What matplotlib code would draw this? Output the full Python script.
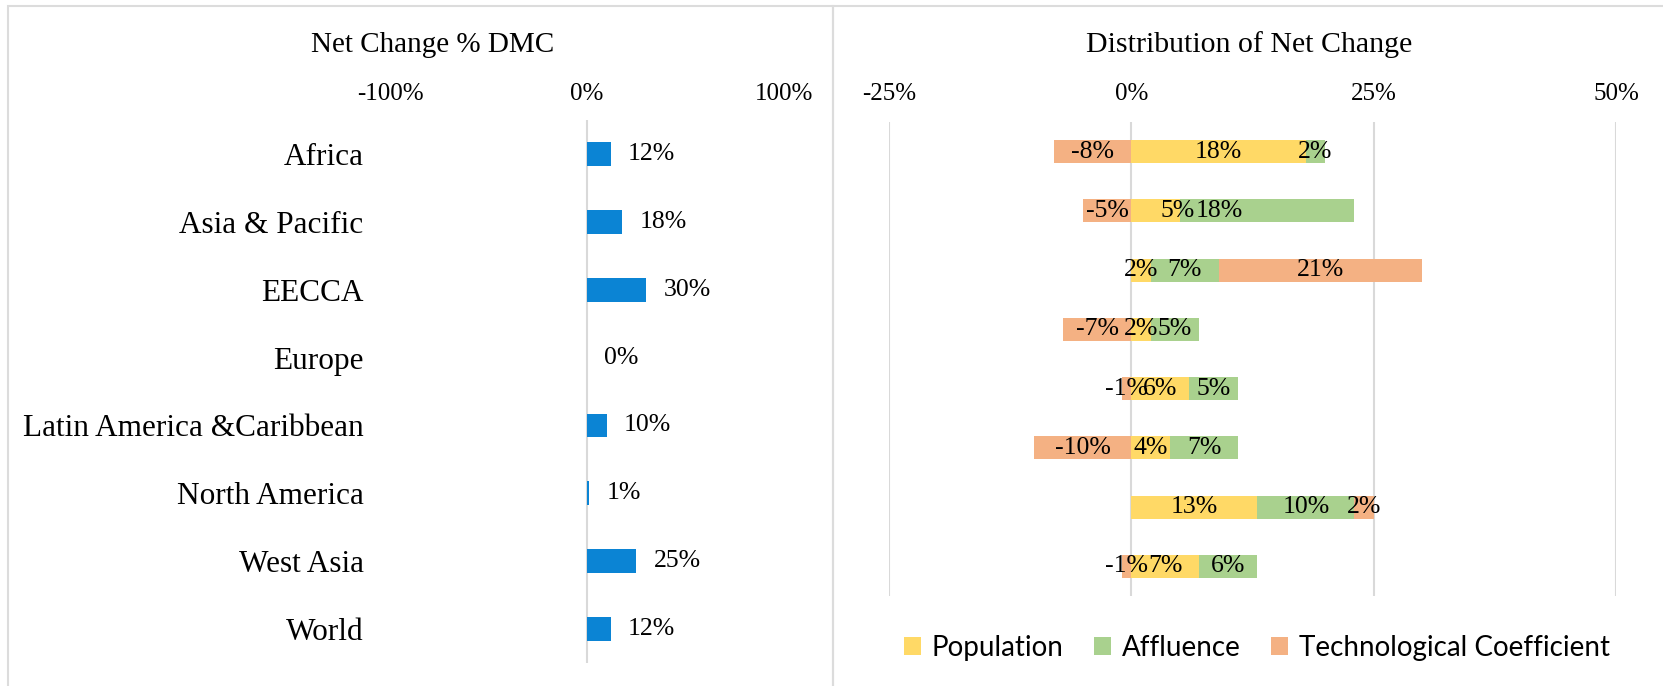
import numpy as np
import matplotlib
matplotlib.use('Agg')
import matplotlib.pyplot as plt
from matplotlib.patches import Rectangle

regions = ['Africa', 'Asia & Pacific', 'EECCA', 'Europe', 'Latin America &Caribbean',
           'North America', 'West Asia', 'World']
dmc_change = [12, 18, 30, 0, 10, 1, 25, 12]

population = [18, 5, 2, 2, 6, 4, 13, 7]
affluence = [2, 18, 7, 5, 5, 7, 10, 6]
technology = [-8, -5, 21, -7, -1, -10, 2, -1]
series_names = ['Population', 'Affluence', 'Technological Coefficient']

left_ticks = [-100, 0, 100]
right_ticks = [-25, 0, 25, 50]

# where Excel had moved a couple of the labels (in % units)
label_nudge = {(1, 0): 2.3, (1, 1): -4.9}

W, H = 1663, 686
serif = 'Liberation Serif'
blue = '#0b84d4'
colors = ['#ffd966', '#a9d18e', '#f4b183']
gridc = '#d9d9d9'

fig = plt.figure(figsize=(W / 100, H / 100), dpi=100)

# panel borders
fig.add_artist(Rectangle((8 / W, -0.02), (833 - 8) / W, (H - 6) / H + 0.02,
                         transform=fig.transFigure, fill=False, ec='#dcdcdc', lw=1.5))
fig.add_artist(Rectangle((833 / W, -0.02), 0.6, (H - 6) / H + 0.02,
                         transform=fig.transFigure, fill=False, ec='#dcdcdc', lw=1.5))

y = np.arange(len(regions))

# ---- left panel
axL = fig.add_axes([390 / W, 1 - 663 / H, 394 / W, 543 / H])
axL.barh(y, dmc_change, height=0.35, color=blue, zorder=2)
axL.axvline(0, color=gridc, lw=1.5, zorder=1)
axL.set_xlim(-100, 100)
axL.set_ylim(len(regions) - 0.5, -0.5)
axL.xaxis.tick_top()
axL.set_xticks(left_ticks)
axL.set_xticklabels([f'{t}%' for t in left_ticks], fontsize=18, family=serif)
axL.set_yticks(y)
axL.set_yticklabels(regions, fontsize=22.5, family=serif)
axL.tick_params(axis='x', length=0, pad=11)
axL.tick_params(axis='y', length=0, pad=19)
for s in axL.spines.values():
    s.set_visible(False)
for i, v in enumerate(dmc_change):
    axL.annotate(f'{v}%', (v, i), xytext=(12.5, 0), textcoords='offset points',
                 ha='left', va='center', fontsize=18.5, family=serif)

# ---- right panel
axR = fig.add_axes([889 / W, 1 - 596 / H, 727 / W, 474 / H])
pos_acc = np.zeros(len(regions))
neg_acc = np.zeros(len(regions))
handles = []
for k, vals in enumerate([population, affluence, technology]):
    vals = np.array(vals, dtype=float)
    lefts = np.where(vals >= 0, pos_acc, neg_acc)
    h = axR.barh(y, vals, left=lefts, height=0.39, color=colors[k], zorder=2,
                 label=series_names[k])
    handles.append(h)
    for i, v in enumerate(vals):
        cx = lefts[i] + v / 2 + label_nudge.get((i, k), 0)
        axR.text(cx, i, f'{int(v)}%', ha='center', va='center', fontsize=18.5,
                 family=serif, zorder=3)
    pos_acc = pos_acc + np.where(vals >= 0, vals, 0)
    neg_acc = neg_acc + np.where(vals < 0, vals, 0)

axR.set_xlim(-25, 50)
axR.set_ylim(len(regions) - 0.5, -0.5)
axR.xaxis.tick_top()
axR.set_xticks(right_ticks)
axR.set_xticklabels([f'{t}%' for t in right_ticks], fontsize=18, family=serif)
axR.set_yticks([])
axR.tick_params(axis='x', length=0, pad=12)
axR.grid(axis='x', color=gridc, lw=1.5, zorder=0)
axR.set_axisbelow(True)
for s in axR.spines.values():
    s.set_visible(False)

# titles
fig.text(433 / W, 1 - 45 / H, 'Net Change % DMC', ha='center', va='center',
         fontsize=21, family=serif)
fig.text(1249 / W, 1 - 45 / H, 'Distribution of Net Change', ha='center', va='center',
         fontsize=21.5, family=serif)

fig.legend(handles=handles, loc='center', bbox_to_anchor=(1257 / W, 1 - 648 / H),
           ncol=3, frameon=False, prop={'family': 'Lato', 'size': 20},
           handlelength=0.6, handleheight=0.6, handletextpad=0.4, columnspacing=1.1)

fig.savefig('out.png', dpi=100, facecolor='white')
